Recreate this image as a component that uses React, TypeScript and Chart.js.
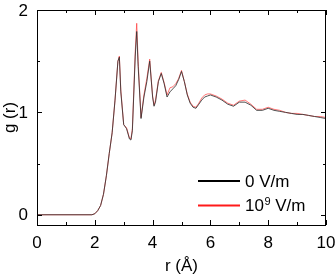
import React, { useEffect, useRef } from "react";
import { Chart, registerables } from "chart.js";

Chart.register(...registerables);

const rValues = [0, 1.9, 2.0, 2.1, 2.2, 2.3, 2.4, 2.5, 2.6, 2.7, 2.8, 2.85, 2.9, 3.0, 3.1, 3.2, 3.25, 3.3, 3.4, 3.45, 3.5, 3.6, 3.7, 3.8, 3.9, 4.0, 4.05, 4.1, 4.2, 4.3, 4.4, 4.5, 4.6, 4.7, 4.8, 4.9, 5.0, 5.1, 5.2, 5.3, 5.4, 5.5, 5.6, 5.7, 5.8, 5.9, 6.0, 6.2, 6.4, 6.6, 6.8, 7.0, 7.2, 7.4, 7.6, 7.8, 8.0, 8.2, 8.4, 8.6, 8.8, 9.0, 9.2, 9.4, 9.6, 9.8, 10.0];

const g0 = [0, 0, 0.01, 0.04, 0.09, 0.2, 0.38, 0.6, 0.8, 1.12, 1.5, 1.54, 1.2, 0.88, 0.84, 0.74, 0.73, 0.82, 1.55, 1.79, 1.45, 0.94, 1.15, 1.3, 1.5, 1.15, 1.06, 1.1, 1.3, 1.38, 1.28, 1.15, 1.2, 1.23, 1.26, 1.32, 1.4, 1.3, 1.17, 1.09, 1.05, 1.04, 1.08, 1.12, 1.15, 1.16, 1.17, 1.15, 1.12, 1.08, 1.06, 1.1, 1.1, 1.07, 1.02, 1.02, 1.04, 1.02, 1.01, 1.0, 0.99, 0.98, 0.98, 0.97, 0.96, 0.95, 0.94];

const g9 = [0, 0, 0.01, 0.04, 0.09, 0.2, 0.38, 0.6, 0.8, 1.12, 1.5, 1.55, 1.22, 0.88, 0.85, 0.75, 0.74, 0.84, 1.6, 1.87, 1.5, 0.95, 1.17, 1.33, 1.52, 1.16, 1.07, 1.12, 1.31, 1.39, 1.29, 1.17, 1.24, 1.25, 1.28, 1.33, 1.41, 1.3, 1.18, 1.1, 1.06, 1.05, 1.09, 1.14, 1.17, 1.18, 1.18, 1.16, 1.13, 1.09, 1.07, 1.11, 1.12, 1.08, 1.03, 1.03, 1.05, 1.03, 1.02, 1.0, 0.99, 0.99, 0.98, 0.97, 0.96, 0.96, 0.95];

const xMajorTicks = [0, 2, 4, 6, 8, 10];
const xMinorTicks = [1, 3, 5, 7, 9];
const yMajorTicks = [0, 1, 2];
const yMinorTicks = [0.5, 1.5];

// legend labels: [base, superscript, rest]
const seriesLabelParts = [
  ["0 V/m", "", ""],
  ["10", "9", " V/m"],
];
const seriesLabels = ["0 V/m", "10\u2079 V/m"];
const seriesColors = ["#000000", "#ff1a1a"];

const FONT = "'Liberation Sans', Arial, sans-serif";

const framePlugin = {
  id: "framePlugin",
  afterDraw(chart: any) {
    const { ctx, chartArea } = chart;
    const xs = chart.scales.x;
    const ys = chart.scales.y;
    const { left, right, top, bottom } = chartArea;
    ctx.save();
    ctx.strokeStyle = "#000";
    ctx.lineWidth = 1;
    ctx.strokeRect(left + 0.5, top + 0.5, right - left - 1, bottom - top);
    ctx.beginPath();
    const tick = (vals: number[], len: number) => {
      vals.forEach((v) => {
        const px = Math.round(xs.getPixelForValue(v)) + 0.5;
        ctx.moveTo(px, bottom);
        ctx.lineTo(px, bottom - len);
        ctx.moveTo(px, top);
        ctx.lineTo(px, top + len);
      });
    };
    const ytick = (vals: number[], len: number) => {
      vals.forEach((v) => {
        const py = Math.round(ys.getPixelForValue(v)) + 0.5;
        ctx.moveTo(left, py);
        ctx.lineTo(left + len, py);
        ctx.moveTo(right, py);
        ctx.lineTo(right - len, py);
      });
    };
    tick(xMajorTicks, 5);
    tick(xMinorTicks, 3);
    ytick(yMajorTicks, 5);
    ytick(yMinorTicks, 3);
    ctx.stroke();

    ctx.fillStyle = "#000";
    ctx.font = `17px ${FONT}`;

    // tick labels
    ctx.textAlign = "center";
    ctx.textBaseline = "middle";
    xMajorTicks.forEach((v) => {
      ctx.fillText(String(v), xs.getPixelForValue(v), 243);
    });
    ctx.textAlign = "right";
    yMajorTicks.forEach((v) => {
      ctx.fillText(String(v), 28, ys.getPixelForValue(v) + 1);
    });

    // axis titles
    ctx.textAlign = "center";
    ctx.fillText("r (\u00c5)", (left + right) / 2, 266);
    ctx.save();
    ctx.translate(10, (top + bottom) / 2);
    ctx.rotate(-Math.PI / 2);
    ctx.fillText("g (r)", 0, 0);
    ctx.restore();

    // legend
    const lx0 = right - 128;
    const lx1 = right - 86;
    const ly = [bottom - 44, bottom - 19.5];
    ctx.textAlign = "left";
    seriesLabelParts.forEach((parts, i) => {
      ctx.strokeStyle = seriesColors[i];
      ctx.lineWidth = 2;
      ctx.beginPath();
      ctx.moveTo(lx0, ly[i]);
      ctx.lineTo(lx1, ly[i]);
      ctx.stroke();
      ctx.fillStyle = "#000";
      let x = right - 81;
      const y = ly[i] + 1;
      ctx.font = `17px ${FONT}`;
      ctx.fillText(parts[0], x, y);
      x += ctx.measureText(parts[0]).width;
      if (parts[1]) {
        ctx.font = `11px ${FONT}`;
        ctx.fillText(parts[1], x + 0.5, y - 5);
        x += ctx.measureText(parts[1]).width + 0.5;
      }
      if (parts[2]) {
        ctx.font = `17px ${FONT}`;
        ctx.fillText(parts[2], x, y);
      }
    });
    ctx.restore();
  },
};

export default function App() {
  const ref = useRef<HTMLCanvasElement | null>(null);
  useEffect(() => {
    document.body.style.margin = "0";
    if (!ref.current) return;
    const chart = new Chart(ref.current, {
      type: "line",
      data: {
        datasets: [
          {
            label: seriesLabels[0],
            data: rValues.map((r, i) => ({ x: r, y: g0[i] })),
            borderColor: "rgba(50,50,50,0.85)",
            borderWidth: 1,
            pointRadius: 0,
            tension: 0,
          },
          {
            label: seriesLabels[1],
            data: rValues.map((r, i) => ({ x: r, y: g9[i] })),
            borderColor: "rgba(255,60,60,0.7)",
            borderWidth: 1,
            pointRadius: 0,
            tension: 0,
          },
        ],
      },
      options: {
        animation: false,
        responsive: false,
        devicePixelRatio: 1,
        layout: { padding: { left: 0, right: 9, top: 10, bottom: 0 } },
        plugins: { legend: { display: false }, tooltip: { enabled: false } },
        scales: {
          x: {
            type: "linear",
            min: 0,
            max: 10,
            grid: { display: false },
            border: { display: false },
            ticks: { display: false },
            afterFit: (s: any) => {
              s.height = 51;
            },
          },
          y: {
            type: "linear",
            min: -0.1,
            max: 2,
            grid: { display: false },
            border: { display: false },
            ticks: { display: false },
            afterFit: (s: any) => {
              s.width = 37;
            },
          },
        },
      },
      plugins: [framePlugin],
    });
    return () => chart.destroy();
  }, []);
  return <canvas ref={ref} width={335} height={276} style={{ display: "block" }} />;
}
